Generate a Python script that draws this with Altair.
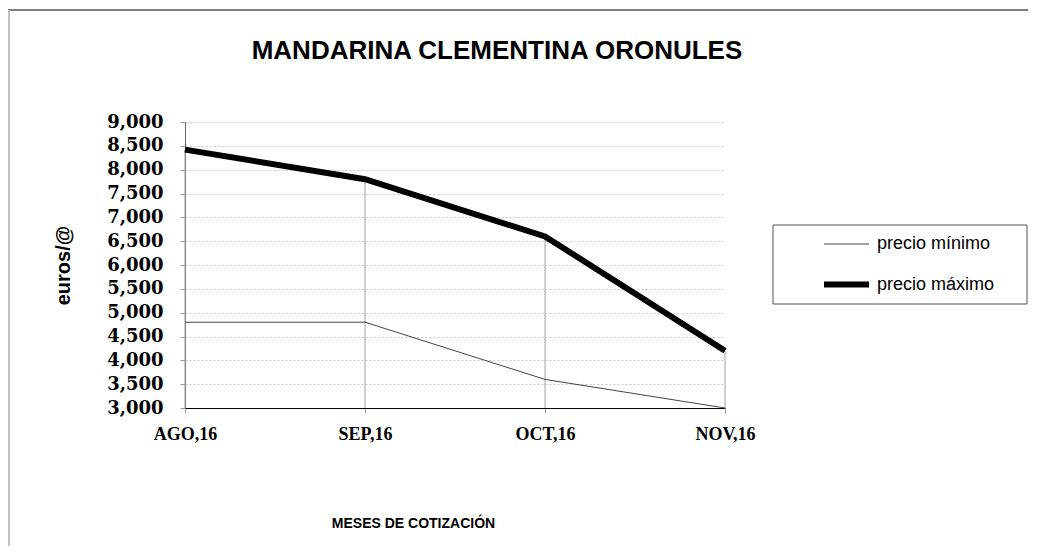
import altair as alt
import pandas as pd

meses = ["AGO,16", "SEP,16", "OCT,16", "NOV,16"]
precio_minimo = [4800, 4800, 3600, 3000]
precio_maximo = [8420, 7800, 6600, 4200]
series = ["precio mínimo", "precio máximo"]
y_ticks = [3000, 3500, 4000, 4500, 5000, 5500, 6000, 6500, 7000, 7500, 8000, 8500, 9000]

rows = []
for m, lo, hi in zip(meses, precio_minimo, precio_maximo):
    rows.append({"mes": m, "serie": series[0], "valor": lo})
    rows.append({"mes": m, "serie": series[1], "valor": hi})
df = pd.DataFrame(rows)
drops = pd.DataFrame({"mes": meses, "valor": precio_maximo, "base": [3000] * len(meses)})

W, H = 540, 286
PL, PT, PR, PB = 177, 114, 303, 138

x_scale = alt.Scale(type="point", padding=0)
x_axis = alt.Axis(
    title="MESES DE COTIZACIÓN",
    titleFont="Liberation Sans", titleFontSize=14, titleFontWeight="bold",
    titleColor="#000", titleX=228, titleY=115, titleAlign="center",
    titleBaseline="middle", titleAnchor="start",
    labelFont="Liberation Serif", labelFontSize=18, labelFontWeight="bold",
    labelColor="#000", labelAngle=0, labelPadding=12, labelFlush=False,
    labelAlign="center", labelOverlap=False,
    domainColor="#000", domainWidth=1.2,
    tickColor="#999", tickSize=5, grid=False,
)
y_scale = alt.Scale(domain=[3000, 9000], nice=False, zero=False)
y_axis = alt.Axis(
    title="euros/@",
    titleFont="Liberation Sans", titleFontSize=20, titleFontWeight="bold",
    titleColor="#000", titleAngle=-90, titleX=-122, titleY=143,
    titleAlign="center", titleBaseline="middle",
    values=y_ticks, format=",.0f",
    labelFont="DejaVu Serif", labelFontSize=18, labelFontWeight="bold",
    labelColor="#000", labelPadding=17, labelOverlap=False, labelFlush=False,
    domainColor="#666", tickColor="#999", tickSize=5,
    grid=True, gridColor="#c8c8c8", gridDash=[2, 2], gridWidth=1,
)

drop_rules = alt.Chart(drops).mark_rule(color="#a0a0a0", strokeWidth=1).encode(
    x=alt.X("mes:N", sort=meses, scale=x_scale, axis=x_axis),
    y=alt.Y("valor:Q", scale=y_scale, axis=y_axis),
    y2="base:Q",
)

one = alt.Data(values=[{"k": 1}])
legend_box = alt.Chart(one).mark_rect(fill="white", stroke="#555", strokeWidth=1).encode(
    x=alt.value(588), x2=alt.value(842), y=alt.value(103), y2=alt.value(182)
)
frame_top = alt.Chart(one).mark_rule(color="#808080", strokeWidth=2).encode(
    x=alt.value(-177), x2=alt.value(W + PR), y=alt.value(-112)
)
frame_left = alt.Chart(one).mark_rule(color="#c0c0c0", strokeWidth=2).encode(
    x=alt.value(-176), y=alt.value(-112), y2=alt.value(H + PB)
)
title_txt = alt.Chart(alt.Data(values=[{"t": "MANDARINA CLEMENTINA ORONULES"}])).mark_text(
    font="Liberation Sans", fontSize=26, fontWeight="bold", color="#000",
    align="center", baseline="middle"
).encode(text="t:N", x=alt.value(312), y=alt.value(-71))

legend_cfg = dict(
    title=None, orient="none", legendX=636, legendY=99,
    symbolType="stroke", symbolSize=2025, symbolStrokeColor="#000",
    labelFont="Liberation Sans", labelFontSize=18, labelColor="#000",
    labelOffset=5, rowPadding=6, padding=0,
)

lines = alt.Chart(df).mark_line(strokeCap="butt", strokeJoin="miter").encode(
    x=alt.X("mes:N", sort=meses, scale=x_scale, axis=x_axis),
    y=alt.Y("valor:Q", scale=y_scale, axis=y_axis),
    detail="serie:N",
    strokeWidth=alt.StrokeWidth(
        "serie:N",
        scale=alt.Scale(domain=series, range=[1, 6]),
        legend=alt.Legend(**legend_cfg),
    ),
    color=alt.Color(
        "serie:N",
        scale=alt.Scale(domain=series, range=["#444444", "#000000"]),
        legend=alt.Legend(**legend_cfg),
    ),
)

chart = alt.layer(frame_top, frame_left, title_txt, legend_box, drop_rules, lines).properties(
    width=W, height=H,
    padding={"left": PL, "top": PT, "right": PR, "bottom": PB},
    autosize=alt.AutoSizeParams(type="none"),
    background="white",
).configure_view(stroke=None)

chart.save("out.html", embed_options={"renderer": "svg", "actions": False})
